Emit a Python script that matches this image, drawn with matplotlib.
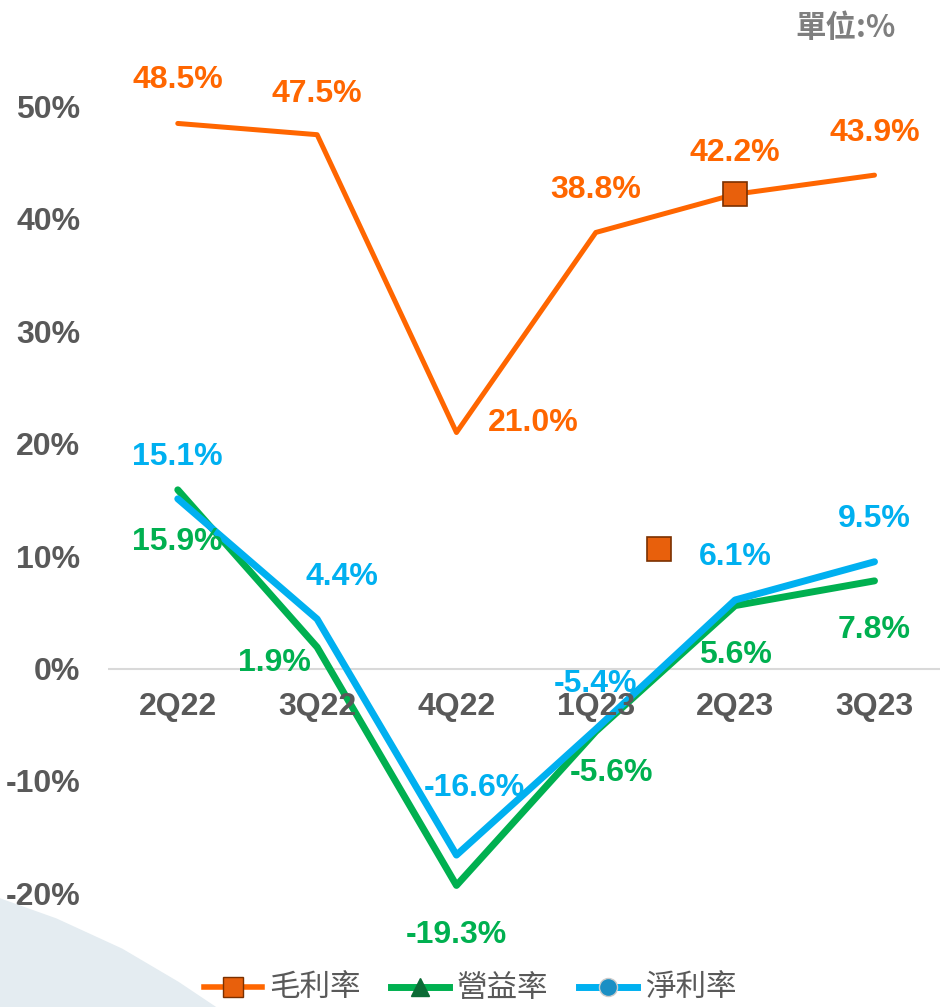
import matplotlib.pyplot as plt
from matplotlib.lines import Line2D
from matplotlib.patches import Polygon

plt.rcParams['font.family'] = ['Liberation Sans', 'Noto Sans CJK TC', 'DejaVu Sans']

quarters = ['2Q22', '3Q22', '4Q22', '1Q23', '2Q23', '3Q23']
gross_margin = [48.5, 47.5, 21.0, 38.8, 42.2, 43.9]
op_margin = [15.9, 1.9, -19.3, -5.6, 5.6, 7.8]
net_margin = [15.1, 4.4, -16.6, -5.4, 6.1, 9.5]
y_ticks = [-20, -10, 0, 10, 20, 30, 40, 50]
series_names = ['毛利率', '營益率', '淨利率']
# stray marker left on the slide next to the 2Q23 label
stray_x = [3.45]
stray_y = [10.6]

ORANGE = '#FF6600'
GREEN = '#00B050'
BLUE = '#00B0F0'
GRAY = '#595959'

fig = plt.figure(figsize=(9.4, 10.07), dpi=100)

# faint swoosh in the lower left corner
bg = Polygon([(0, 0), (0, 0.108), (0.06, 0.088), (0.13, 0.058), (0.19, 0.025), (0.23, 0)],
             closed=True, transform=fig.transFigure, facecolor='#e4ecf1', edgecolor='none', zorder=0)
fig.patches.append(bg)

ax = fig.add_axes([0.115, 0.056, 0.885, 0.904])
ax.patch.set_alpha(0)
x = list(range(len(quarters)))

ax.axhline(0, color='#D9D9D9', lw=1.5, zorder=1)
ax.plot(x, gross_margin, color=ORANGE, lw=3.6, solid_capstyle='round', zorder=3)
ax.plot(x[4], gross_margin[4], marker='s', ms=17, mfc='#E8600C', mec='#7a3000', mew=1.2, zorder=4)
ax.plot(stray_x, stray_y, ls='none', marker='s', ms=17, mfc='#E8600C', mec='#7a3000', mew=1.2, zorder=4)
ax.plot(x, op_margin, color=GREEN, lw=5, solid_capstyle='round', zorder=3)
ax.plot(x, net_margin, color=BLUE, lw=5, solid_capstyle='round', zorder=3)

ax.set_xlim(-0.5, 5.47)
ax.set_ylim(-25.1, 55.9)
ax.set_xticks([])
ax.set_yticks(y_ticks)
ax.set_yticklabels([f'{t}%' for t in y_ticks], fontsize=23, fontweight='bold', color=GRAY)
ax.tick_params(axis='y', length=0, pad=20)
for s in ax.spines.values():
    s.set_visible(False)

# category labels sit just under the zero line
for i, q in enumerate(quarters):
    ax.annotate(q, (i, 0), xytext=(0, -38), textcoords='offset pixels',
                ha='center', va='center', fontsize=23, fontweight='bold', color=GRAY)

gm_off = [(0, 43), (0, 41), (77, 10), (0, 42), (0, 41), (0, 42)]
op_off = [(0, -52), (-43, -16), (0, -50), (16, -42), (0, -49), (0, -49)]
net_off = [(0, 42), (25, 42), (18, 67), (0, 45), (0, 43), (0, 43)]

for vals, offs, col in [(gross_margin, gm_off, ORANGE), (op_margin, op_off, GREEN),
                        (net_margin, net_off, BLUE)]:
    for i, (v, off) in enumerate(zip(vals, offs)):
        ax.annotate(f'{v:.1f}%', (i, v), xytext=off, textcoords='offset pixels',
                    ha='center', va='center', fontsize=23, fontweight='bold', color=col, zorder=5)

fig.text(0.9, 0.972, '單位:%', ha='center', va='center', fontsize=22, color='#7F7F7F',
         family=['Noto Sans CJK TC'], fontweight='bold')

handles = [
    Line2D([], [], color=ORANGE, lw=4, marker='s', ms=15, mfc='#E8600C', mec='#7a3000'),
    Line2D([], [], color=GREEN, lw=5, marker='^', ms=13, mfc='#0B6B35', mec='#0B6B35'),
    Line2D([], [], color=BLUE, lw=5, marker='o', ms=13, mfc='#1a8fc4', mec='#cccccc'),
]
fig.legend(handles, series_names, loc='center', bbox_to_anchor=(0.5, 0.018), ncol=3,
           frameon=False, handlelength=1.9, handletextpad=0.25, columnspacing=1.0,
           prop={'family': ['Noto Sans CJK TC'], 'size': 22}, labelcolor=GRAY)

fig.savefig('out.png', dpi=100)
